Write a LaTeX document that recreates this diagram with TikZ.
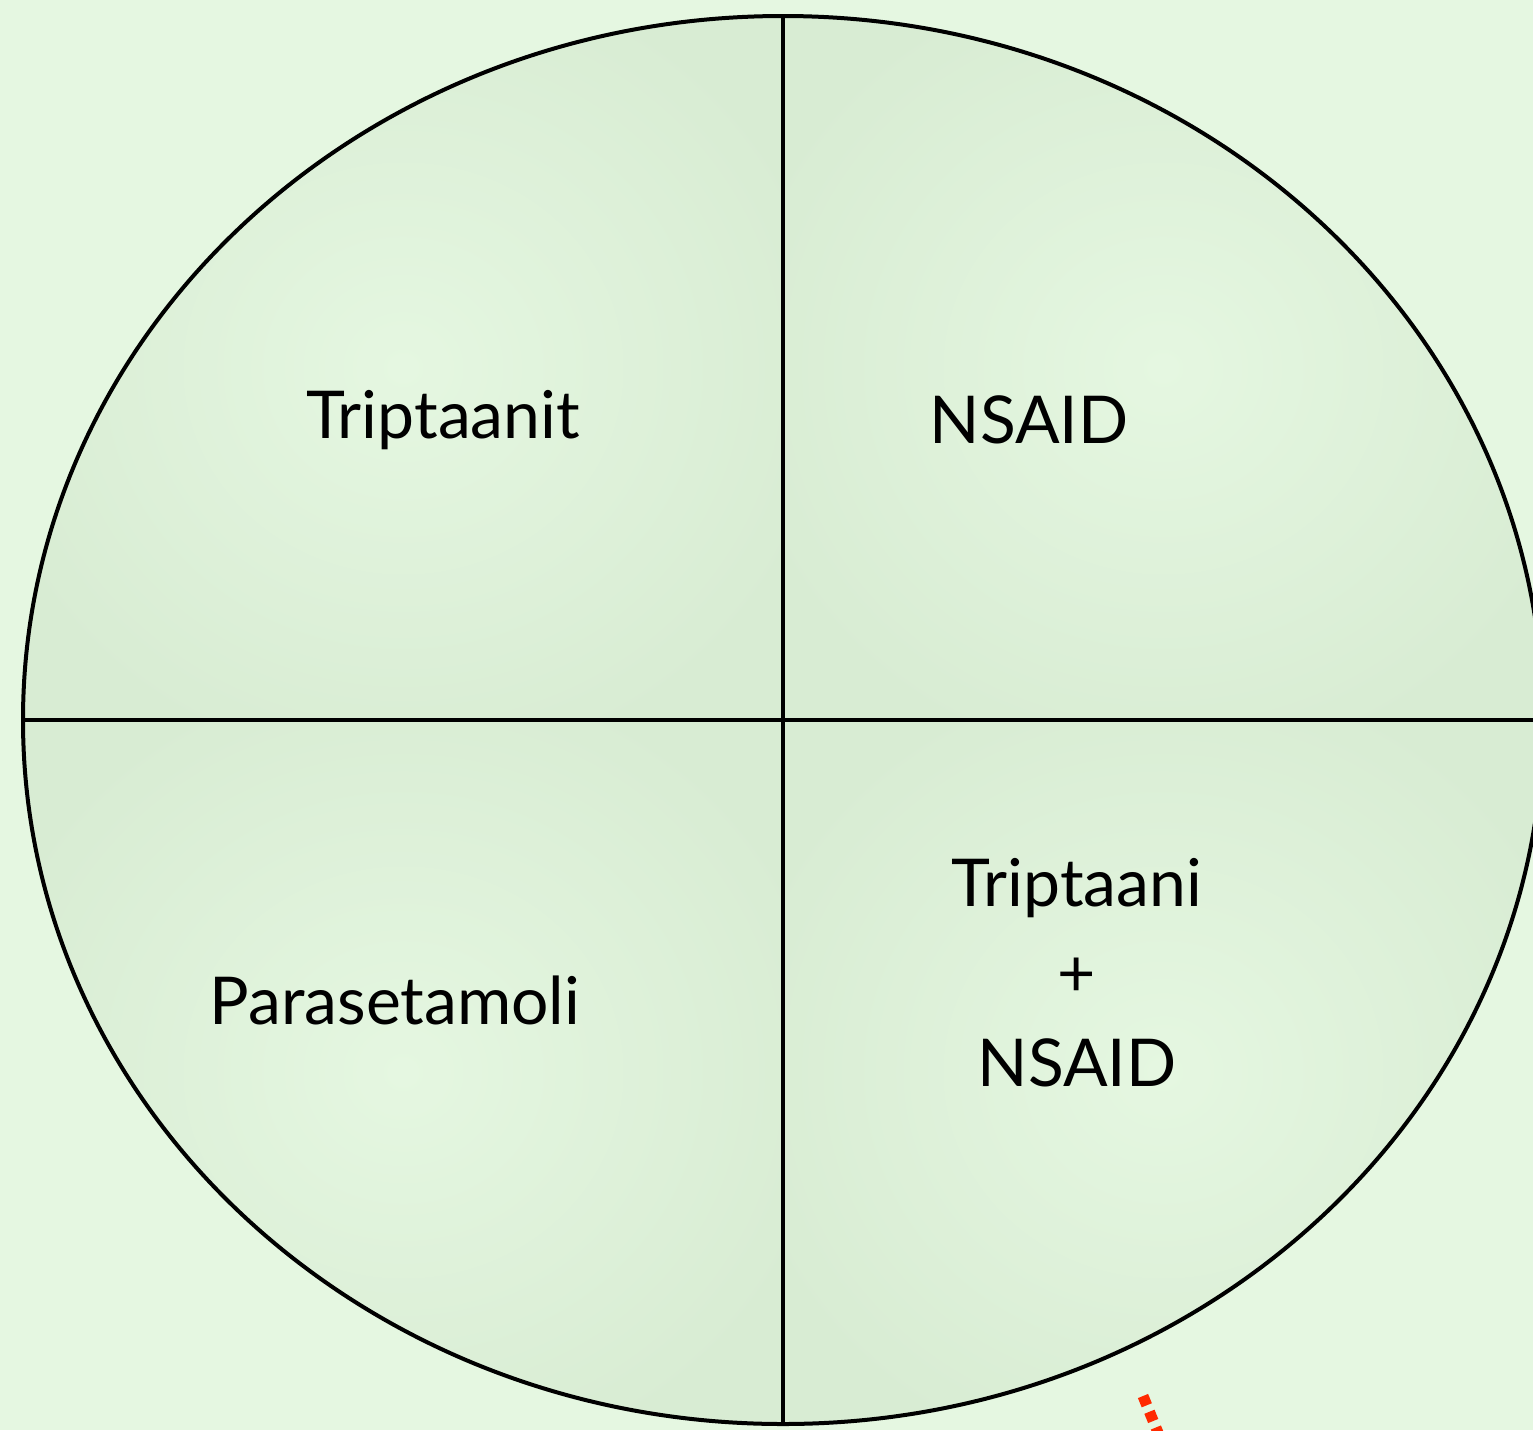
\documentclass[tikz,border=0pt]{standalone}
\usepackage{fontspec}
\setmainfont{Lato}
\definecolor{bg}{HTML}{E5F7E1}
\definecolor{shade}{HTML}{D8ECD3}
\definecolor{dotred}{HTML}{FF2A00}
\begin{document}
\begin{tikzpicture}[x=1pt,y=-1pt,
  lbl/.style={font=\fontsize{66}{90}\selectfont, align=center, inner sep=0pt},
  edge/.style={line width=4pt, black}]
\fill[bg] (0,0) rectangle (1533,1430);
\useasboundingbox (0,0) rectangle (1533,1430);
\foreach \xa/\ya/\xb/\yb in {23/16/783/720, 783/16/1543/720, 23/720/783/1424, 783/720/1543/1424}{
  \begin{scope}
  \clip (783,720) ellipse [x radius=760, y radius=704];
  \clip (\xa,\ya) rectangle (\xb,\yb);
  \shade[inner color=bg, outer color=shade] (\xa-60,\ya-60) rectangle (\xb+60,\yb+60);
  \end{scope}
}
\coordinate (top) at (783,16);
\coordinate (bot) at (783,1424);
\coordinate (left) at (23,720);
\coordinate (right) at (1545,720);
\draw[edge] (783,720) ellipse [x radius=760, y radius=704];
\draw[edge] (top) -- (bot);
\draw[edge] (left) -- (right);
\node[lbl] (trip) at (443,420) {Triptaanit};
\node[lbl] (nsaid) at (1029,420) {NSAID};
\node[lbl] (para) at (395,1000) {Parasetamoli};
\node[lbl] (combo) at (1077,973) {Triptaani\\+\\NSAID};
\coordinate (d1) at (1143,1396);
\coordinate (d2) at (1163,1445);
\draw[dotred, line width=11pt, dash pattern=on 10pt off 7pt] (d1) -- (d2);
\end{tikzpicture}
\end{document}
